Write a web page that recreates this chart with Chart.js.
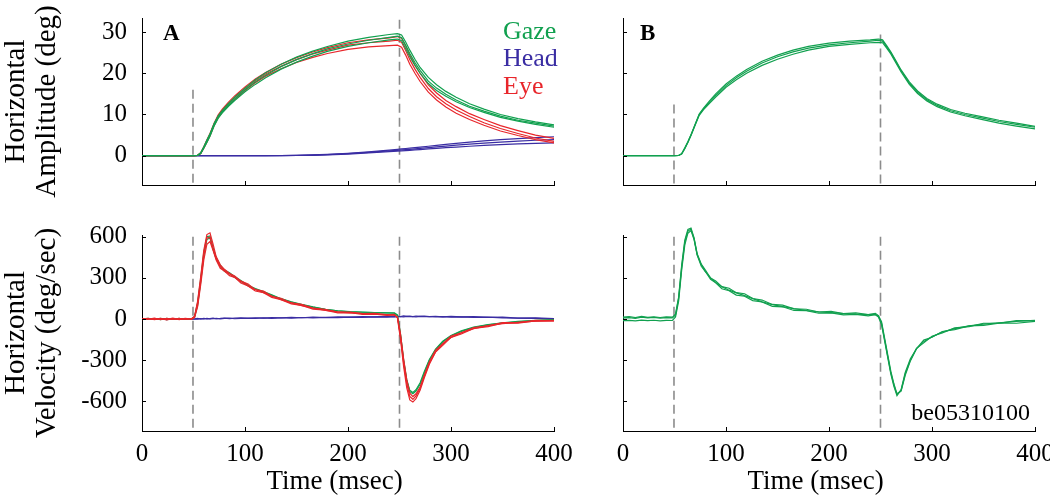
<!DOCTYPE html>
<html>
<head>
<meta charset="utf-8">
<script src="https://cdn.jsdelivr.net/npm/chart.js@4.4.1/dist/chart.umd.min.js"></script>
<style>
  html, body { margin: 0; padding: 0; background: #fff; overflow: hidden; width: 1050px; height: 497px; }
  canvas { position: absolute; }
</style>
</head>
<body>
<canvas id="ampA" width="600" height="215" style="left:0;top:0;width:600px;height:215px"></canvas>
<canvas id="ampB" width="520" height="215" style="left:560px;top:0;width:520px;height:215px"></canvas>
<canvas id="velA" width="600" height="282" style="left:0;top:215px;width:600px;height:282px"></canvas>
<canvas id="velB" width="520" height="282" style="left:560px;top:215px;width:520px;height:282px"></canvas>
<script>
// ---- data ----
const tAmp = [0, 20, 40, 50, 54, 57, 60, 63, 66, 70, 74, 78, 84, 90, 100, 110, 120, 135, 150, 165,
  180, 200, 220, 240, 248, 252, 256, 260, 265, 270, 278, 286, 295, 305, 318, 332, 348, 365, 382, 400];

// panel A, amplitude (deg)
const gazeAmpA1 = [0,0,0,0,0.1,0.7,2.2,3.8,5.3,7.8,9.7,11.0,12.7,14.2,16.4,18.4,20.1,22.2,23.9,25.3,
  26.5,27.8,28.7,29.4,29.6,29.3,27.6,25.6,23.4,21.4,19.0,17.2,15.6,14.2,12.6,11.3,10.0,9.0,8.2,7.5];
const gazeAmpA2 = [0,0,0,0,0.1,0.6,2.0,3.5,5.0,7.5,9.4,10.7,12.3,13.8,16.0,17.9,19.5,21.6,23.3,24.7,
  25.9,27.1,28.0,28.7,29.0,28.6,26.8,24.8,22.6,20.7,18.1,16.4,14.9,13.5,12.0,10.8,9.6,8.6,7.9,7.2];
const gazeAmpA3 = [0,0,0,0,0.05,0.5,1.8,3.2,4.7,7.2,9.1,10.4,12.0,13.4,15.5,17.3,18.9,21.0,22.7,24.1,
  25.3,26.5,27.4,28.1,28.3,27.9,26.0,24.0,21.9,20.0,17.5,15.8,14.4,13.1,11.7,10.5,9.3,8.4,7.6,6.9];
const eyeAmpA1 = [0,0,0,0,0.1,0.7,2.2,3.8,5.4,7.9,9.9,11.3,13.0,14.5,16.7,18.6,20.2,22.2,23.8,25.1,
  26.2,27.4,28.1,28.6,28.9,28.5,26.6,24.4,22.0,20.0,17.2,15.2,13.4,11.9,10.2,8.8,7.3,6.1,5.0,4.2];
const eyeAmpA2 = [0,0,0,0,0.1,0.6,2.0,3.6,5.1,7.6,9.6,11.0,12.6,14.1,16.3,18.2,19.8,21.7,23.3,24.6,
  25.6,26.8,27.4,27.8,28.0,27.5,25.5,23.3,21.0,19.0,16.3,14.3,12.6,11.1,9.5,8.0,6.6,5.4,4.3,3.5];
const eyeAmpA3 = [0,0,0,0,0.05,0.5,1.8,3.3,4.8,7.3,9.2,10.6,12.2,13.6,15.8,17.7,19.3,21.1,22.6,23.8,
  24.8,25.8,26.4,26.7,26.8,26.3,24.4,22.2,20.0,18.0,15.4,13.5,11.8,10.3,8.8,7.4,6.0,4.9,3.9,3.1];
const headAmpA1 = [0,0,0,0,0,0,0,0,0,0,0,0,0,0,0,0,0.02,0.05,0.1,0.2,
  0.35,0.6,0.95,1.35,1.55,1.65,1.75,1.85,1.98,2.1,2.3,2.5,2.75,3.0,3.3,3.6,3.9,4.15,4.4,4.6];
const headAmpA2 = [0,0,0,0,0,0,0,0,0,0,0,0,0,0,0,0,0,0.02,0.05,0.1,
  0.2,0.4,0.7,1.0,1.12,1.18,1.25,1.32,1.4,1.5,1.65,1.8,1.95,2.1,2.3,2.5,2.7,2.85,3.0,3.1];
const headAmpA3 = [0,0,0,0,0,0,0,0,0,0,0,0,0,0,0,0,0.01,0.03,0.07,0.15,
  0.28,0.5,0.82,1.18,1.32,1.4,1.48,1.56,1.66,1.78,1.95,2.15,2.35,2.55,2.8,3.05,3.3,3.55,3.75,3.9];

// panel B, amplitude (deg)
const gazeAmpB1 = [0,0,0,0,0.05,0.5,1.9,3.4,5.1,7.6,10.1,11.5,13.3,15.0,17.4,19.3,20.9,22.9,24.4,25.6,
  26.5,27.3,27.8,28.1,28.3,28.1,26.7,25.2,23.0,20.8,17.9,15.7,13.9,12.5,11.2,10.3,9.5,8.6,7.9,7.1];
const gazeAmpB2 = [0,0,0,0,0.05,0.5,1.8,3.3,5.0,7.5,10.0,11.3,13.0,14.6,17.0,18.9,20.5,22.5,24.0,25.2,
  26.1,26.9,27.4,27.8,28.0,27.8,26.4,25.0,22.8,20.6,17.6,15.4,13.6,12.2,10.9,10.0,9.2,8.3,7.6,6.9];
const gazeAmpB3 = [0,0,0,0,0.05,0.4,1.7,3.2,4.9,7.4,9.8,11.1,12.7,14.2,16.6,18.4,20.0,21.9,23.4,24.6,
  25.6,26.5,27.0,27.4,27.5,27.4,26.1,24.7,22.5,20.3,17.3,15.1,13.3,11.9,10.6,9.7,8.8,7.9,7.2,6.5];

const tVel = [0, 6, 12, 18, 24, 30, 36, 42, 48, 51, 54, 57, 60, 63, 66, 69, 72, 76, 80, 85,
  90, 96, 103, 110, 118, 126, 135, 145, 155, 166, 178, 190, 202, 214, 226, 238, 245, 248, 251, 254,
  257, 260, 263, 266, 270, 274, 279, 285, 292, 300, 310, 322, 336, 350, 365, 382, 400];

// panel A, velocity (deg/sec)
const eyeVelA1 = [3,-2,6,-5,4,-3,5,-2,2, 20,130,310,500,615, 628,545,455,395,362,
  331,314,276,254,214, 203,166,151,117,106, 79,70,51,50,39, 41,31,33,8,-150,
  -345,-500,-590,-605,-580, -520,-430,-330,-241,-192, -134,-109,-69,-55,-31, -30,-13,-15];
const eyeVelA2 = [0,5,-4,3,-6,2,-3,4,0, 15,110,280,470,590, 595,510,440,385,350,
  330,305,275,240,215, 192,168,140,118,98, 80,63,52,45,40, 36,32,30,12,-130,
  -320,-470,-565,-585,-560, -505,-420,-320,-240,-180, -135,-100,-70,-48,-34, -24,-16,-10];
const eyeVelA3 = [-4,3,-2,5,-3,6,-5,2,-3, 10,90,250,430,545, 565,500,430,369,350,
  316,303,262,241,204, 191,158,141,110,99, 72,64,45,47,33, 36,26,29,15,-110,
  -290,-440,-540,-565,-545, -495,-410,-312,-226,-180, -124,-101,-62,-50,-27, -26,-10,-11];
const gazeVelA1 = [2,4,-3,5,-4,3,-2,3,1, 18,120,295,485,600, 605,520,448,392,356,
  336,310,280,246,222, 200,176,148,126,106, 88,71,60,54,50, 47,45,44,30,-110,
  -300,-440,-520,-535,-515, -465,-385,-295,-220,-162, -120,-86,-58,-40,-28, -18,-10,-5];
const gazeVelA2 = [-2,3,2,-4,5,-2,4,-3,-1, 12,100,270,460,580, 590,505,438,382,348,
  330,303,274,242,218, 196,172,146,124,104, 86,70,60,53,49, 46,44,42,25,-120,
  -305,-450,-530,-545,-525, -475,-395,-300,-225,-166, -124,-90,-62,-43,-30, -20,-12,-6];
const headVelA1 = [0,3,-3,2,-4,3,-2,2,0, 1,4,0,5,1, 3,6,2,4,7,
  3,6,8,4,9, 7,10,8,12,9, 14,11,15,13,18, 15,19,17,21,18,
  22,19,21,18,22, 19,21,17,20,16, 19,15,17,12,13, 7,8,3];
const headVelA2 = [-3,2,1,-3,2,-2,3,-1,-2, 0,-1,3,0,4, 1,2,5,1,4,
  6,2,5,7,4, 8,5,9,7,11, 8,12,10,14,12, 16,13,17,15,18,
  16,19,17,18,16, 19,17,18,15,17, 14,16,12,13,8, 6,4,0];

// panel B, velocity (deg/sec)
const gazeVelB1 = [14,18,10,20,12,16,11,15,13, 35,160,395,575,652, 662,590,475,400,357,
  298,277,236,224,192, 184,149,138,106,101, 74,71,51,55,39, 44,33,41,25,-20,
  -140,-260,-380,-472,-545, -525,-410,-305,-214,-174, -126,-101,-65,-55,-31, -31,-12,-12];
const gazeVelB2 = [8,10,5,14,8,12,6,10,8, 30,150,380,560,640, 655,585,470,395,345,
  300,265,235,210,190, 170,148,125,105,90, 75,62,52,46,40, 35,32,33,20,-30,
  -150,-270,-390,-480,-550, -520,-400,-300,-215,-165, -130,-95,-70,-50,-38, -28,-18,-10];
const gazeVelB3 = [-12,-10,-14,-8,-12,-9,-13,-10,-11, 15,130,360,540,625, 645,578,465,384,346,
  289,264,220,206,174, 166,134,124,92,89, 62,61,42,45,30, 34,23,31,15,-40,
  -160,-280,-400,-490,-558, -515,-390,-289,-216,-154, -133,-91,-77,-50,-47, -30,-31,-18];

// tick labels and event markers
const timeTicksStep = 100;
const ampTicks = [0, 10, 20, 30];
const velTicks = [-600, -300, 0, 300, 600];
const markerTimes = [49.5, 250];
const ampAMarkerTops = [16, 33];
const ampBMarkerTops = [12.4, 29.4];
const velMarkerTops = [600, 600];

// ---- styling ----
const SERIF = "'Liberation Serif', 'Times New Roman', Times, serif";
const GREEN = '#11a04f', BLUE = '#3a2da3', RED = '#e8262b', DASH = '#8c8c8c';
const AMP_MIN = -7.1, AMP_MAX = 33.4, VEL_MIN = -816, VEL_MAX = 612;

Chart.defaults.font.family = SERIF;
Chart.defaults.color = '#000';

function trace(t, v, color, order) {
  return { data: t.map((x, i) => ({ x: x, y: v[i] })), borderColor: color, borderWidth: 1.2,
    pointRadius: 0, fill: false, order: order, clip: false };
}
function markers(tops, bottom) {
  return markerTimes.map((t, i) => ({
    data: [{ x: t, y: tops[i] }, { x: t, y: bottom }], borderColor: DASH, borderWidth: 1.6,
    borderDash: [9, 5], pointRadius: 0, order: 20
  }));
}

const inwardTicks = {
  id: 'inwardTicks',
  afterDraw(chart) {
    const { ctx, chartArea } = chart;
    const x = chart.scales.x, y = chart.scales.y;
    ctx.save();
    ctx.strokeStyle = '#000';
    ctx.lineWidth = 1;
    ctx.beginPath();
    x.ticks.forEach(tk => {
      const px = Math.round(x.getPixelForValue(tk.value)) + 0.5;
      ctx.moveTo(px, chartArea.bottom);
      ctx.lineTo(px, chartArea.bottom - 4);
    });
    y.ticks.forEach(tk => {
      const py = Math.round(y.getPixelForValue(tk.value)) + 0.5;
      ctx.moveTo(chartArea.left, py);
      ctx.lineTo(chartArea.left + 4, py);
    });
    ctx.stroke();
    ctx.restore();
  }
};

function notes(items) {
  return {
    id: 'notes',
    afterDraw(chart) {
      const ctx = chart.ctx;
      items.forEach(n => {
        ctx.save();
        ctx.font = n.font;
        ctx.fillStyle = n.color || '#000';
        ctx.textAlign = n.align || 'left';
        ctx.textBaseline = 'alphabetic';
        ctx.fillText(n.text, n.x, n.y);
        ctx.restore();
      });
    }
  };
}

function panelOptions(o) {
  return {
    responsive: false,
    animation: false,
    devicePixelRatio: 1,
    layout: { padding: { left: 0, top: o.padTop, right: o.padRight, bottom: 0 } },
    plugins: { legend: { display: false }, tooltip: { enabled: false } },
    scales: {
      x: {
        type: 'linear', min: 0, max: 400,
        ticks: { stepSize: timeTicksStep, display: o.xLabels, maxRotation: 0, padding: 8,
          color: '#000', font: { size: 25, lineHeight: 1.2 } },
        grid: { display: false, drawTicks: false },
        border: { display: true, color: '#000', width: 1 },
        title: { display: o.xLabels, text: 'Time (msec)\u00a0\u00a0\u00a0\u00a0', color: '#000',
          font: { size: 27, lineHeight: 1.15 }, padding: { top: 0, bottom: 0 } },
        afterFit: s => { s.height = o.xHeight; s.paddingLeft = 0; s.paddingRight = 0; }
      },
      y: {
        type: 'linear', min: o.yMin, max: o.yMax,
        afterBuildTicks: s => { s.ticks = o.yTicks.map(v => ({ value: v })); },
        ticks: { display: o.yLabels, padding: 15, color: '#000', font: { size: 25, lineHeight: 1.2 } },
        grid: { display: false, drawTicks: false },
        border: { display: true, color: '#000', width: 1 },
        title: { display: !!o.yTitle, text: o.yTitle || '', color: '#000',
          font: { size: 29, lineHeight: 1.1 }, padding: { top: 0, bottom: 0 } },
        afterFit: s => { s.width = o.yWidth; s.paddingTop = 0; s.paddingBottom = 0; }
      }
    }
  };
}

// ---- panel A: amplitude ----
new Chart(document.getElementById('ampA'), {
  type: 'line',
  data: { datasets: [
    trace(tAmp, gazeAmpA1, GREEN, 1), trace(tAmp, gazeAmpA2, GREEN, 1), trace(tAmp, gazeAmpA3, GREEN, 1),
    trace(tAmp, eyeAmpA1, RED, 2), trace(tAmp, eyeAmpA2, RED, 2), trace(tAmp, eyeAmpA3, RED, 2),
    trace(tAmp, headAmpA1, BLUE, 3), trace(tAmp, headAmpA2, BLUE, 3), trace(tAmp, headAmpA3, BLUE, 3),
    ...markers(ampAMarkerTops, AMP_MIN)
  ] },
  options: panelOptions({ padTop: 18, padRight: 46, yWidth: 142, xHeight: 30, yMin: AMP_MIN, yMax: AMP_MAX,
    yTicks: ampTicks, xLabels: false, yLabels: true, yTitle: ['Horizontal', 'Amplitude (deg)'] }),
  plugins: [inwardTicks, notes([
    { text: 'A', x: 163, y: 40, font: 'bold 23px ' + SERIF },
    { text: 'Gaze', x: 503, y: 38.5, font: '26px ' + SERIF, color: GREEN },
    { text: 'Head', x: 503, y: 66, font: '26px ' + SERIF, color: BLUE },
    { text: 'Eye', x: 503, y: 93.5, font: '26px ' + SERIF, color: RED }
  ])]
});

// ---- panel B: amplitude ----
new Chart(document.getElementById('ampB'), {
  type: 'line',
  data: { datasets: [
    trace(tAmp, gazeAmpB1, GREEN, 1), trace(tAmp, gazeAmpB2, GREEN, 1), trace(tAmp, gazeAmpB3, GREEN, 1),
    ...markers(ampBMarkerTops, AMP_MIN)
  ] },
  options: panelOptions({ padTop: 18, padRight: 45, yWidth: 63, xHeight: 30, yMin: AMP_MIN, yMax: AMP_MAX,
    yTicks: ampTicks, xLabels: false, yLabels: false }),
  plugins: [inwardTicks, notes([
    { text: 'B', x: 80, y: 39.5, font: 'bold 23px ' + SERIF }
  ])]
});

// ---- panel A: velocity ----
new Chart(document.getElementById('velA'), {
  type: 'line',
  data: { datasets: [
    trace(tVel, eyeVelA1, RED, 1), trace(tVel, eyeVelA2, RED, 1), trace(tVel, eyeVelA3, RED, 1),
    trace(tVel, gazeVelA1, GREEN, 2), trace(tVel, gazeVelA2, GREEN, 2),
    trace(tVel, headVelA1, BLUE, 3), trace(tVel, headVelA2, BLUE, 3),
    ...markers(velMarkerTops, VEL_MIN)
  ] },
  options: panelOptions({ padTop: 20, padRight: 46, yWidth: 142, xHeight: 66, yMin: VEL_MIN, yMax: VEL_MAX,
    yTicks: velTicks, xLabels: true, yLabels: true, yTitle: ['Horizontal', 'Velocity (deg/sec)'] }),
  plugins: [inwardTicks]
});

// ---- panel B: velocity ----
new Chart(document.getElementById('velB'), {
  type: 'line',
  data: { datasets: [
    trace(tVel, gazeVelB1, GREEN, 1), trace(tVel, gazeVelB2, GREEN, 1), trace(tVel, gazeVelB3, GREEN, 1),
    ...markers(velMarkerTops, VEL_MIN)
  ] },
  options: panelOptions({ padTop: 20, padRight: 45, yWidth: 63, xHeight: 66, yMin: VEL_MIN, yMax: VEL_MAX,
    yTicks: velTicks, xLabels: true, yLabels: false }),
  plugins: [inwardTicks, notes([
    { text: 'be05310100', x: 470, y: 205, font: '24px ' + SERIF, align: 'right' }
  ])]
});
</script>
</body>
</html>
